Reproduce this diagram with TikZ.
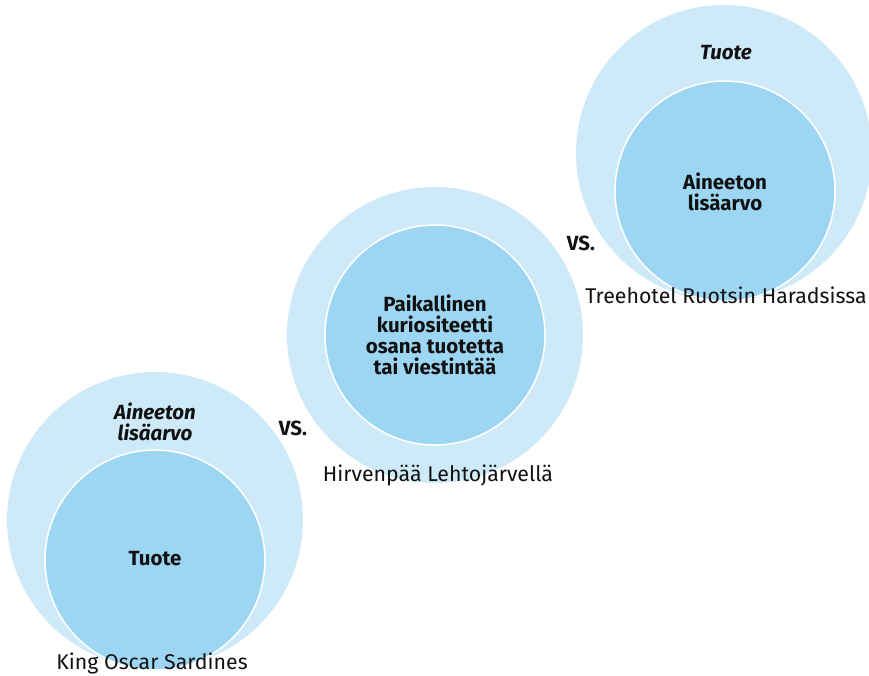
\documentclass[tikz,border=0pt]{standalone}
\usepackage{fontspec}
\setmainfont{Fira Sans}
\usetikzlibrary{positioning}

\definecolor{ringblue}{HTML}{CEEAF9}
\definecolor{coreblue}{HTML}{9DD6F3}
\definecolor{inkgrey}{HTML}{111111}

\tikzset{
  outerring/.style={circle, fill=ringblue, draw=none, minimum size=296pt, inner sep=0pt},
  innercore/.style={circle, fill=coreblue, draw=white, line width=1.5pt, minimum size=220pt, inner sep=0pt},
  coretext/.style={text=inkgrey, font=\fontsize{20.5}{21}\selectfont\bfseries, align=center},
  ringtext/.style={text=inkgrey, font=\fontsize{20.5}{21}\selectfont\bfseries\itshape, align=center},
  caption/.style={text=inkgrey, font=\fontsize{21.3}{21}\selectfont},
  versus/.style={text=inkgrey, font=\fontsize{20.5}{21}\selectfont\bfseries}
}

\begin{document}
\begin{tikzpicture}[x=1pt, y=-1pt]
\useasboundingbox (0,0) rectangle (869,675);

\node[outerring] (ringA) at (155,520) {};
\node[innercore] (coreA) at (155,560) {};
\node[ringtext] (ringlabelA) at (155,422) {Aineeton\\lisäarvo};
\node[coretext] (corelabelA) at (155,559) {Tuote};
\node[caption] (captionA) at (152,663) {King Oscar Sardines};

\node[outerring] (ringB) at (435,335) {};
\node[innercore] (coreB) at (435,335) {};
\node[coretext] (corelabelB) at (435,335) {Paikallinen\\kuriositeetti\\osana tuotetta\\tai viestintää};
\node[caption] (captionB) at (438,475) {Hirvenpää Lehtojärvellä};

\node[outerring] (ringC) at (724,153) {};
\node[innercore] (coreC) at (725,191) {};
\node[ringtext] (ringlabelC) at (726,53) {Tuote};
\node[coretext] (corelabelC) at (725,192) {Aineeton\\lisäarvo};
\node[caption] (captionC) at (726,295) {Treehotel Ruotsin Haradsissa};

\node[versus] (versusA) at (293,428) {VS.};
\node[versus] (versusB) at (581,243) {VS.};

\end{tikzpicture}
\end{document}
